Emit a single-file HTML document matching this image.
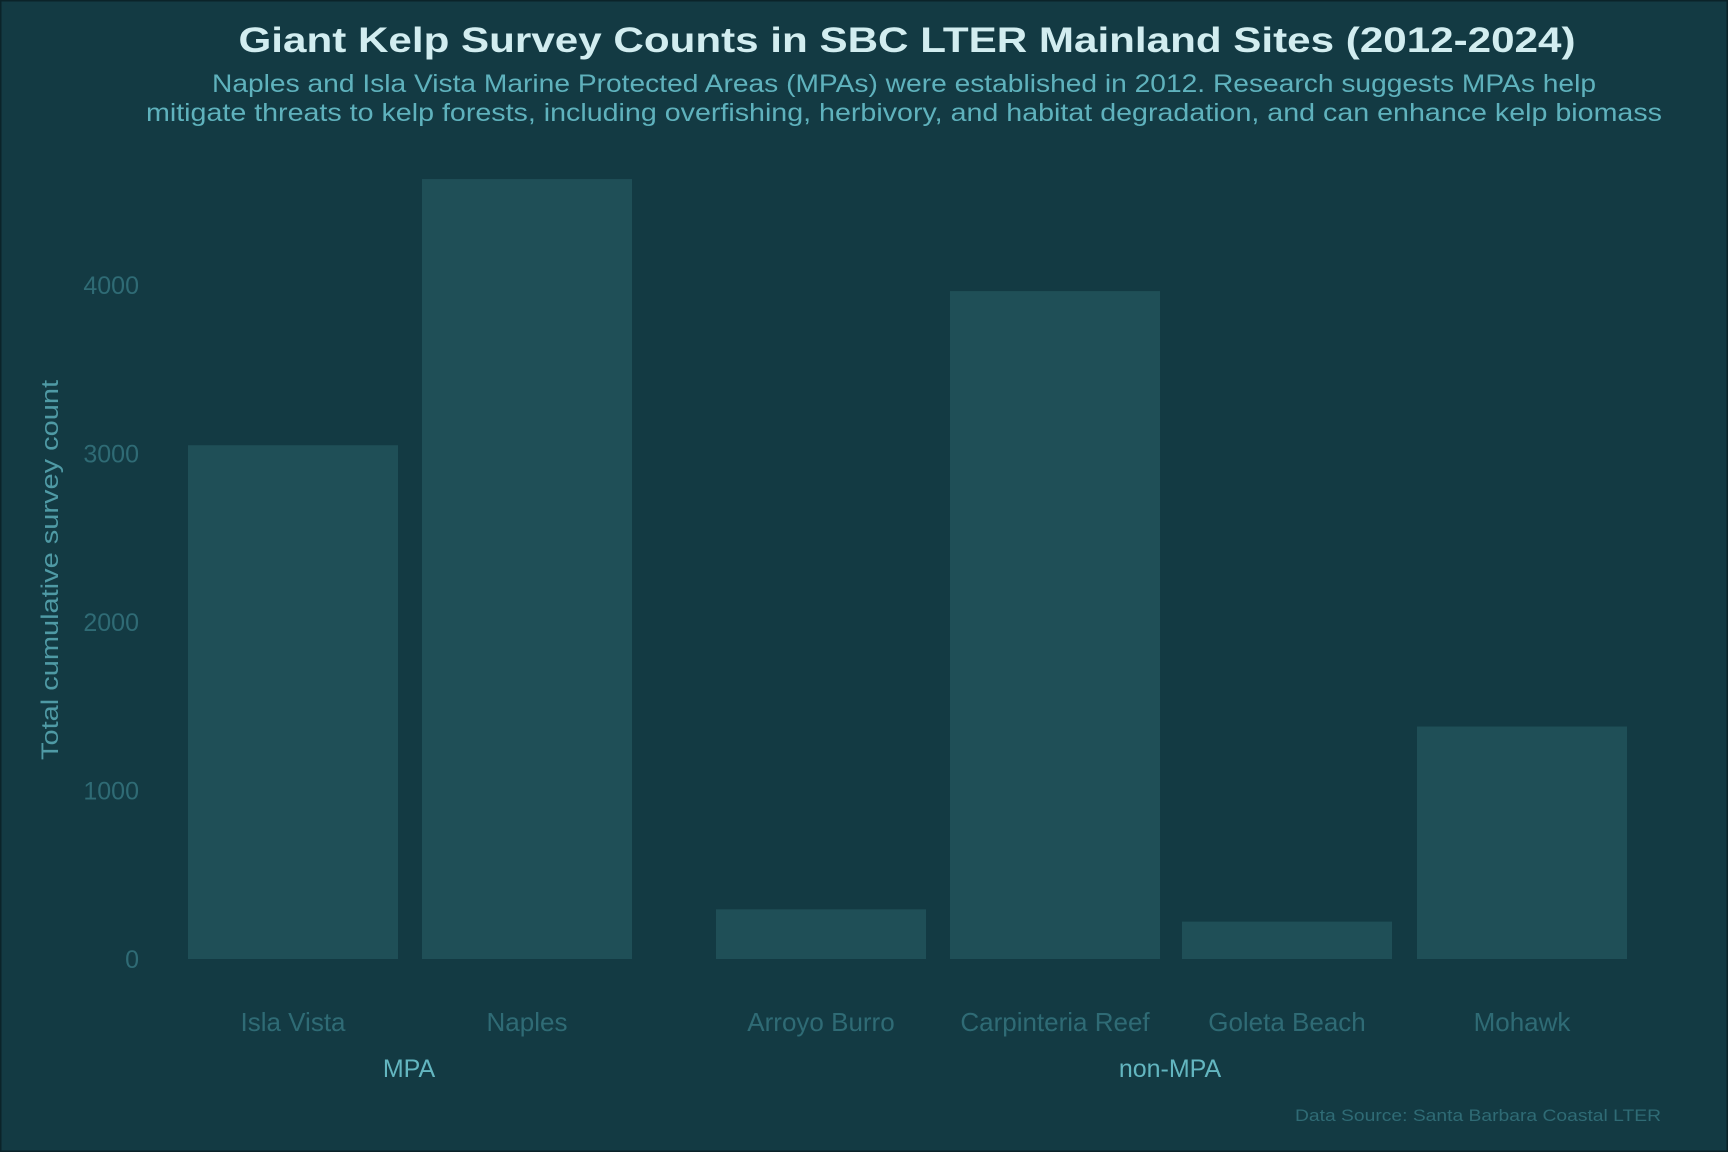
<!DOCTYPE html>
<html><head><meta charset="utf-8"><style>
html,body{margin:0;padding:0;background:#133a43;}
svg{display:block;font-family:"Liberation Sans",sans-serif;}
</style></head><body>
<svg id="chart" width="1728" height="1152" xmlns="http://www.w3.org/2000/svg">
<rect x="0.5" y="0.5" width="1727" height="1151" fill="#133a43" stroke="#0b2329" stroke-width="2"/>
<text x="907" y="52" text-anchor="middle" font-size="35" font-weight="bold" fill="#d2edf0" textLength="1337" lengthAdjust="spacingAndGlyphs">Giant Kelp Survey Counts in SBC LTER Mainland Sites (2012-2024)</text>
<text x="904" y="92" text-anchor="middle" font-size="25" fill="#5fb2bd" textLength="1384" lengthAdjust="spacingAndGlyphs">Naples and Isla Vista Marine Protected Areas (MPAs) were established in 2012. Research suggests MPAs help</text>
<text x="904" y="121" text-anchor="middle" font-size="25" fill="#5fb2bd" textLength="1516" lengthAdjust="spacingAndGlyphs">mitigate threats to kelp forests, including overfishing, herbivory, and habitat degradation, and can enhance kelp biomass</text>
<text transform="translate(58,570) rotate(-90)" text-anchor="middle" font-size="24" fill="#4f9aa5" textLength="380" lengthAdjust="spacingAndGlyphs">Total cumulative survey count</text>
<g id="ticks"></g>
<g id="bars"></g>
<g id="xlabels"></g>
<text x="409" y="1077" text-anchor="middle" font-size="25" fill="#63b6c0">MPA</text>
<text x="1170" y="1077" text-anchor="middle" font-size="25" fill="#63b6c0">non-MPA</text>
<text x="1661" y="1121" text-anchor="end" font-size="17" fill="#2f6b75" textLength="366" lengthAdjust="spacingAndGlyphs">Data Source: Santa Barbara Coastal LTER</text>
</svg>
<script>
const categories = ["Isla Vista","Naples","Arroyo Burro","Carpinteria Reef","Goleta Beach","Mohawk"];
const counts = [3050, 4630, 295, 3965, 222, 1380];
const tickValues = [0, 1000, 2000, 3000, 4000];
const NS = "http://www.w3.org/2000/svg";
const y0 = 959, pxPer = 0.16845;
function yScale(v){ return y0 - v * pxPer; }
const barLefts = [188, 422, 716, 950, 1182, 1417]; // layout slots (with group gap)
function xScale(i){ return barLefts[i]; }
const bw = 210;
const tg = document.getElementById('ticks');
tickValues.forEach(v=>{
  const t=document.createElementNS(NS,'text');
  t.setAttribute('x',139);t.setAttribute('y',yScale(v)+9);
  t.setAttribute('text-anchor','end');t.setAttribute('font-size','25');t.setAttribute('fill','#2f6b75');
  t.textContent=v;
  
  
  tg.appendChild(t);
});
const bg=document.getElementById('bars'), xg=document.getElementById('xlabels');
categories.forEach((c,i)=>{
  const r=document.createElementNS(NS,'rect');
  r.setAttribute('x',xScale(i));r.setAttribute('width',bw);
  r.setAttribute('y',yScale(counts[i]));r.setAttribute('height',y0-yScale(counts[i]));
  r.setAttribute('fill','#1f4f57');
  
  
  bg.appendChild(r);
  const t=document.createElementNS(NS,'text');
  t.setAttribute('x',xScale(i)+bw/2);t.setAttribute('y',1031);
  t.setAttribute('text-anchor','middle');t.setAttribute('font-size','26');t.setAttribute('fill','#2f6b75');
  t.textContent=c;
  
  
  xg.appendChild(t);
});
</script>
</body></html>
